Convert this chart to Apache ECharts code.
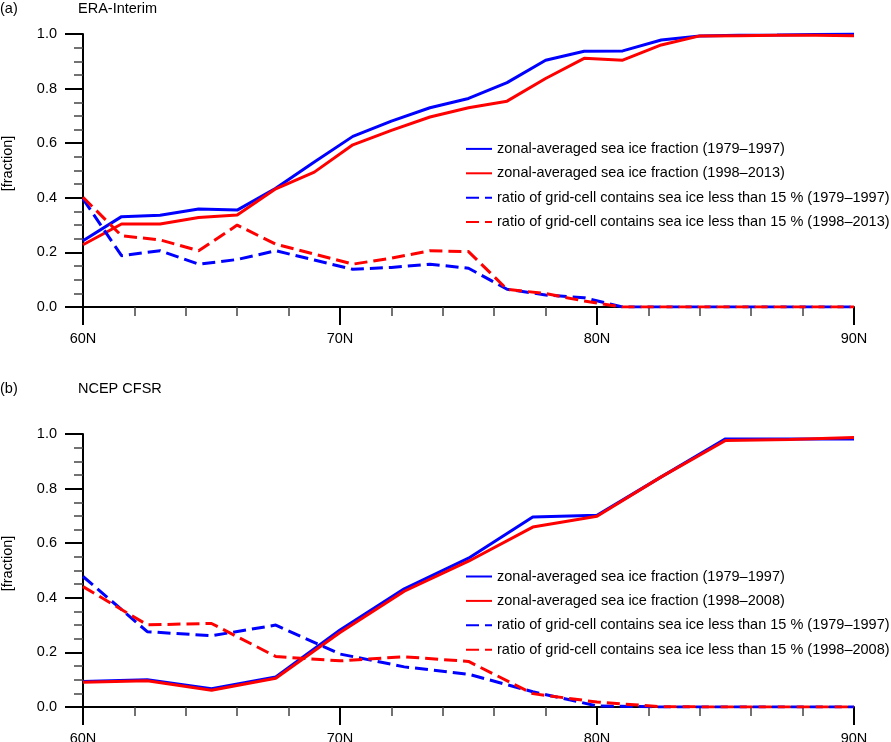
<!DOCTYPE html>
<html>
<head>
<meta charset="utf-8">
<script src="https://cdn.jsdelivr.net/npm/echarts@6/dist/echarts.min.js"></script>
<style>
html, body { margin: 0; padding: 0; background: #fff; }
#main { width: 891px; height: 742px; }
</style>
</head>
<body>
<div id="main"></div>
<script>
// (a) ERA-Interim, 1.5 degree grid
var eraLat = [60, 61.5, 63, 64.5, 66, 67.5, 69, 70.5, 72, 73.5, 75, 76.5, 78, 79.5, 81, 82.5, 84, 85.5, 87, 88.5, 90];
var eraIce79 = [0.243, 0.331, 0.336, 0.359, 0.355, 0.435, 0.531, 0.625, 0.681, 0.730, 0.764, 0.822, 0.904, 0.937, 0.938, 0.978, 0.993, 0.995, 0.996, 0.998, 1.0];
var eraIce98 = [0.228, 0.304, 0.304, 0.328, 0.337, 0.433, 0.494, 0.594, 0.647, 0.696, 0.730, 0.754, 0.837, 0.911, 0.904, 0.960, 0.993, 0.994, 0.995, 0.995, 0.994];
var eraLow79 = [0.396, 0.188, 0.206, 0.157, 0.174, 0.206, 0.172, 0.138, 0.145, 0.157, 0.142, 0.065, 0.044, 0.034, 0, 0, 0, 0, 0, 0, 0];
var eraLow98 = [0.402, 0.261, 0.246, 0.206, 0.300, 0.230, 0.194, 0.157, 0.179, 0.206, 0.203, 0.065, 0.049, 0.022, 0, 0, 0, 0, 0, 0, 0];

// (b) NCEP CFSR, 2.5 degree grid
var cfsrLat = [60, 62.5, 65, 67.5, 70, 72.5, 75, 77.5, 80, 82.5, 85, 87.5, 90];
var cfsrIce79 = [0.093, 0.100, 0.067, 0.110, 0.282, 0.433, 0.545, 0.696, 0.702, 0.843, 0.982, 0.982, 0.982];
var cfsrIce98 = [0.091, 0.096, 0.061, 0.105, 0.273, 0.424, 0.534, 0.659, 0.699, 0.843, 0.976, 0.980, 0.987];
var cfsrLow79 = [0.478, 0.276, 0.261, 0.300, 0.194, 0.147, 0.120, 0.056, 0.004, 0, 0, 0, 0];
var cfsrLow98 = [0.441, 0.301, 0.306, 0.185, 0.169, 0.184, 0.167, 0.049, 0.018, 0.001, 0, 0, 0];

var yTicks = [0, 0.2, 0.4, 0.6, 0.8, 1.0];

var namesA = [
    'zonal-averaged sea ice fraction (1979\u20131997)',
    'zonal-averaged sea ice fraction (1998\u20132013)',
    'ratio of grid-cell contains sea ice less than 15 % (1979\u20131997)',
    'ratio of grid-cell contains sea ice less than 15 % (1998\u20132013)'
];
var namesB = [
    'zonal-averaged sea ice fraction (1979\u20131997)',
    'zonal-averaged sea ice fraction (1998\u20132008)',
    'ratio of grid-cell contains sea ice less than 15 % (1979\u20131997)',
    'ratio of grid-cell contains sea ice less than 15 % (1998\u20132008)'
];

var FONT = '"Liberation Sans", Arial, Helvetica, sans-serif';
var FS = 14.5;

function pairs(xs, ys) {
    var out = [];
    for (var i = 0; i < xs.length; i++) {
        out.push([xs[i], ys[i]]);
    }
    return out;
}

function makeLine(name, idx, data, color, dashed) {
    return {
        name: name,
        type: 'line',
        xAxisIndex: idx,
        yAxisIndex: idx,
        data: data,
        symbol: 'none',
        showSymbol: false,
        silent: true,
        lineStyle: {
            color: color,
            width: 3,
            type: dashed ? [13, 6] : 'solid'
        },
        itemStyle: { color: color }
    };
}

function xAxisFor(idx) {
    return {
        type: 'value',
        gridIndex: idx,
        min: 60,
        max: 90,
        interval: 10,
        axisLine: { show: true, onZero: false, lineStyle: { color: '#000', width: 2 } },
        axisTick: { show: true, length: 18, lineStyle: { color: '#000', width: 2 } },
        minorTick: { show: true, splitNumber: 5, length: 9, lineStyle: { color: '#444', width: 1.5 } },
        splitLine: { show: false },
        axisLabel: {
            margin: 24,
            color: '#000',
            fontFamily: FONT,
            fontSize: FS,
            formatter: function (v) { return v + 'N'; }
        }
    };
}

function yAxisFor(idx) {
    return {
        type: 'value',
        gridIndex: idx,
        min: yTicks[0],
        max: yTicks[yTicks.length - 1],
        interval: 0.2,
        name: '[fraction]',
        nameLocation: 'middle',
        nameGap: 68,
        nameTextStyle: { color: '#000', fontFamily: FONT, fontSize: FS, padding: [0, 0, 0, 14] },
        axisLine: { show: true, onZero: false, lineStyle: { color: '#000', width: 2 } },
        axisTick: { show: true, length: 18, lineStyle: { color: '#000', width: 2 } },
        minorTick: { show: true, splitNumber: 4, length: 9, lineStyle: { color: '#444', width: 1.5 } },
        splitLine: { show: false },
        axisLabel: {
            margin: 26,
            color: '#000',
            fontFamily: FONT,
            fontSize: FS,
            formatter: function (v) { return v.toFixed(1); }
        }
    };
}

function legendFor(names, top) {
    return {
        data: names,
        orient: 'vertical',
        left: 465,
        top: top,
        padding: 0,
        itemWidth: 26,
        itemHeight: 14,
        itemGap: 9.4,
        selectedMode: false,
        itemStyle: { opacity: 0 },
        textStyle: { color: '#000', fontFamily: FONT, fontSize: FS, lineHeight: 14 }
    };
}

var myChart = echarts.init(document.getElementById('main'));
var option = {
    animation: false,
    backgroundColor: '#fff',
    title: [
        { text: '(a)', left: 0, top: 1, padding: 0, textStyle: { color: '#000', fontFamily: FONT, fontSize: FS, fontWeight: 'normal' } },
        { text: 'ERA-Interim', left: 78, top: 1, padding: 0, textStyle: { color: '#000', fontFamily: FONT, fontSize: FS, fontWeight: 'normal' } },
        { text: '(b)', left: 0, top: 381, padding: 0, textStyle: { color: '#000', fontFamily: FONT, fontSize: FS, fontWeight: 'normal' } },
        { text: 'NCEP CFSR', left: 78, top: 381, padding: 0, textStyle: { color: '#000', fontFamily: FONT, fontSize: FS, fontWeight: 'normal' } }
    ],
    legend: [legendFor(namesA, 141.4), legendFor(namesB, 569)],
    grid: [
        { left: 83, top: 34, width: 771, height: 273, containLabel: false, outerBoundsMode: 'none' },
        { left: 83, top: 434, width: 771, height: 273, containLabel: false, outerBoundsMode: 'none' }
    ],
    xAxis: [xAxisFor(0), xAxisFor(1)],
    yAxis: [yAxisFor(0), yAxisFor(1)],
    series: [
        makeLine(namesA[0], 0, pairs(eraLat, eraIce79), '#0000ff', false),
        makeLine(namesA[1], 0, pairs(eraLat, eraIce98), '#ff0000', false),
        makeLine(namesA[2], 0, pairs(eraLat, eraLow79), '#0000ff', true),
        makeLine(namesA[3], 0, pairs(eraLat, eraLow98), '#ff0000', true),
        makeLine(namesB[0], 1, pairs(cfsrLat, cfsrIce79), '#0000ff', false),
        makeLine(namesB[1], 1, pairs(cfsrLat, cfsrIce98), '#ff0000', false),
        makeLine(namesB[2], 1, pairs(cfsrLat, cfsrLow79), '#0000ff', true),
        makeLine(namesB[3], 1, pairs(cfsrLat, cfsrLow98), '#ff0000', true)
    ]
};
myChart.setOption(option);
</script>
</body>
</html>
